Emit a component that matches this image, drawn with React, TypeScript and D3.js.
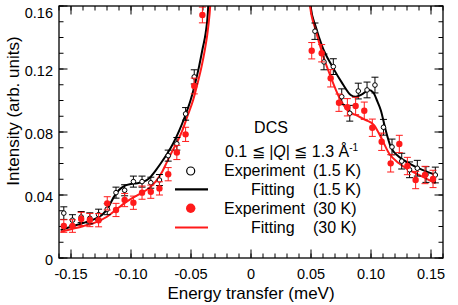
import React from 'react';
import * as d3 from 'd3';

const blackLeftE = [-0.156, -0.1488, -0.1415, -0.1343, -0.127, -0.1198, -0.1125, -0.1053, -0.098, -0.0908, -0.0835, -0.0763, -0.069, -0.0618, -0.0545, -0.0473];
const blackLeftI = [0.0285, 0.024, 0.026, 0.0252, 0.0275, 0.031, 0.0415, 0.043, 0.0485, 0.0485, 0.0478, 0.0495, 0.065, 0.0725, 0.0915, 0.115];
const blackLeftErr = [0.004, 0.0035, 0.0035, 0.0035, 0.0035, 0.0035, 0.0035, 0.0035, 0.0035, 0.0035, 0.0035, 0.0035, 0.0035, 0.004, 0.004, 0.0045];

const redLeftE = [-0.156, -0.1488, -0.1415, -0.1343, -0.127, -0.1198, -0.1125, -0.1053, -0.098, -0.0908, -0.0835, -0.0763, -0.069, -0.0618, -0.0545, -0.0473, -0.0405];
const redLeftI = [0.0203, 0.0203, 0.0248, 0.0241, 0.024, 0.0347, 0.0305, 0.0368, 0.0351, 0.0415, 0.0421, 0.0442, 0.0532, 0.067, 0.0785, 0.1092, 0.1543];
const redLeftErr = [0.004, 0.004, 0.0042, 0.0042, 0.0042, 0.0042, 0.0042, 0.0042, 0.0042, 0.0042, 0.0042, 0.0042, 0.0042, 0.0045, 0.0045, 0.005, 0.005];

const blackRightE = [0.0533, 0.0608, 0.0686, 0.0756, 0.0823, 0.0894, 0.0967, 0.1033, 0.1104, 0.1175, 0.1256, 0.1321, 0.1386, 0.1458, 0.1536];
const blackRightI = [0.144, 0.1245, 0.1215, 0.1024, 0.0919, 0.106, 0.1067, 0.1098, 0.083, 0.0705, 0.0615, 0.056, 0.057, 0.053, 0.0527];
const blackRightErr = [0.0052, 0.005, 0.005, 0.005, 0.005, 0.005, 0.005, 0.005, 0.005, 0.005, 0.005, 0.005, 0.005, 0.005, 0.005];

const redRightE = [0.0506, 0.0589, 0.0664, 0.0733, 0.0803, 0.0872, 0.0944, 0.1011, 0.1089, 0.1164, 0.1236, 0.1303, 0.1372, 0.145, 0.1517];
const redRightI = [0.1316, 0.13, 0.1141, 0.0986, 0.0957, 0.0965, 0.0935, 0.0827, 0.0738, 0.0601, 0.0724, 0.0584, 0.0495, 0.0527, 0.0502];
const redRightErr = [0.0052, 0.0055, 0.0055, 0.0055, 0.0055, 0.0055, 0.0055, 0.0055, 0.0055, 0.0055, 0.0055, 0.0055, 0.0055, 0.0055, 0.0055];

// fitted curves
const fitBlackLeftE = [-0.1586, -0.15, -0.14, -0.13, -0.124, -0.119, -0.1145, -0.11, -0.105, -0.1, -0.095, -0.09, -0.085, -0.08, -0.075, -0.07, -0.065, -0.06, -0.055, -0.0503, -0.0465, -0.0433, -0.0403, -0.0378, -0.036, -0.0352];
const fitBlackLeftI = [0.0178, 0.0198, 0.0222, 0.0248, 0.0275, 0.032, 0.0385, 0.0432, 0.046, 0.047, 0.0475, 0.0483, 0.0505, 0.055, 0.0603, 0.066, 0.0725, 0.0805, 0.09, 0.1003, 0.111, 0.1215, 0.133, 0.1427, 0.155, 0.166];
const fitRedLeftE = [-0.1586, -0.15, -0.14, -0.13, -0.12, -0.113, -0.106, -0.099, -0.092, -0.085, -0.079, -0.074, -0.07, -0.066, -0.062, -0.057, -0.053, -0.0482, -0.0445, -0.0412, -0.0385, -0.0365, -0.0345, -0.0334];
const fitRedLeftI = [0.0167, 0.0183, 0.0202, 0.0225, 0.0262, 0.0303, 0.0345, 0.038, 0.041, 0.0443, 0.049, 0.0548, 0.061, 0.0672, 0.073, 0.0813, 0.09, 0.1003, 0.111, 0.1215, 0.132, 0.1415, 0.155, 0.166];
const fitBlackRightE = [0.049, 0.0497, 0.0539, 0.0594, 0.0678, 0.0761, 0.0831, 0.0872, 0.0928, 0.0983, 0.102, 0.105, 0.1081, 0.1122, 0.1164, 0.1233, 0.1317, 0.1428, 0.1539];
const fitBlackRightI = [0.166, 0.1596, 0.1469, 0.1342, 0.1215, 0.1109, 0.1035, 0.1024, 0.1041, 0.1067, 0.105, 0.1, 0.094, 0.0813, 0.0707, 0.0643, 0.0601, 0.0559, 0.0527];
const fitRedRightE = [0.0485, 0.0493, 0.0539, 0.0594, 0.0664, 0.0733, 0.0803, 0.0872, 0.0956, 0.1025, 0.1094, 0.115, 0.1233, 0.1344, 0.1456, 0.1539];
const fitRedRightI = [0.166, 0.1596, 0.1448, 0.13, 0.1151, 0.1024, 0.094, 0.0908, 0.0876, 0.0844, 0.0749, 0.0665, 0.0601, 0.0548, 0.0506, 0.0474];

const xTicks = [-0.15, -0.1, -0.05, 0, 0.05, 0.1, 0.15];
const xTickLabels = ['-0.15', '-0.10', '-0.05', '0', '0.05', '0.10', '0.15'];
const yTicks = [0, 0.04, 0.08, 0.12, 0.16];
const yTickLabels = ['0', '0.04', '0.08', '0.12', '0.16'];

const W = 458;
const H = 305;
const left = 59, right = 443, top = 6, bottom = 258;
const RED = '#ff1a1a';
const FONT = 'Liberation Sans, Arial, Helvetica, sans-serif';

const x = d3.scaleLinear().domain([-0.16, 0.16]).range([left, right]);
const y = d3.scaleLinear().domain([0, 0.16]).range([bottom, top]);

const line = d3.line<[number, number]>()
  .x(d => x(d[0]))
  .y(d => y(d[1]))
  .curve(d3.curveMonotoneX);

const zip = (a: number[], b: number[]) => a.map((v, i) => [v, b[i]] as [number, number]);

function Points({ es, is, errs, color, filled }: { es: number[]; is: number[]; errs: number[]; color: string; filled: boolean }) {
  return (
    <g>
      {es.map((e, i) => {
        const cx = x(e);
        const y0 = y(is[i] - errs[i]);
        const y1 = y(is[i] + errs[i]);
        return (
          <g key={i} stroke={color} strokeWidth={1}>
            <line x1={cx} x2={cx} y1={y0} y2={y1} />
            <line x1={cx - 3.5} x2={cx + 3.5} y1={y0} y2={y0} />
            <line x1={cx - 3.5} x2={cx + 3.5} y1={y1} y2={y1} />
            {filled
              ? <circle cx={cx} cy={y(is[i])} r={3.2} fill={color} stroke="none" />
              : <circle cx={cx} cy={y(is[i])} r={2.3} fill="white" stroke={color} strokeWidth={1} />}
          </g>
        );
      })}
    </g>
  );
}

export default function App() {
  const minorX = d3.range(-16, 17).map(v => v / 100);
  const minorY = d3.range(0, 17).map(v => v / 100);

  return (
    <svg width={W} height={H} style={{ position: 'absolute', left: 0, top: 0, background: 'white' }} fontFamily={FONT}>
      <defs>
        <clipPath id="plot">
          <rect x={left} y={top} width={right - left} height={bottom - top} />
        </clipPath>
      </defs>

      {/* ticks on all four sides, pointing in */}
      <g stroke="black" strokeWidth={1}>
        {minorX.map((v, i) => (
          <g key={'mx' + i}>
            <line x1={x(v)} x2={x(v)} y1={bottom} y2={bottom - 4.5} />
            <line x1={x(v)} x2={x(v)} y1={top} y2={top + 4.5} />
          </g>
        ))}
        {xTicks.map((v, i) => (
          <g key={'x' + i}>
            <line x1={x(v)} x2={x(v)} y1={bottom} y2={bottom - 8.5} />
            <line x1={x(v)} x2={x(v)} y1={top} y2={top + 8.5} />
          </g>
        ))}
        {minorY.map((v, i) => (
          <g key={'my' + i}>
            <line x1={left} x2={left + 4.5} y1={y(v)} y2={y(v)} />
            <line x1={right} x2={right - 4.5} y1={y(v)} y2={y(v)} />
          </g>
        ))}
        {yTicks.map((v, i) => (
          <g key={'y' + i}>
            <line x1={left} x2={left + 8.5} y1={y(v)} y2={y(v)} />
            <line x1={right} x2={right - 8.5} y1={y(v)} y2={y(v)} />
          </g>
        ))}
      </g>

      <g clipPath="url(#plot)">
        <path d={line(zip(fitBlackLeftE, fitBlackLeftI)) ?? ''} fill="none" stroke="black" strokeWidth={2} />
        <path d={line(zip(fitRedLeftE, fitRedLeftI)) ?? ''} fill="none" stroke={RED} strokeWidth={2} />
        <path d={line(zip(fitBlackRightE, fitBlackRightI)) ?? ''} fill="none" stroke="black" strokeWidth={2} />
        <path d={line(zip(fitRedRightE, fitRedRightI)) ?? ''} fill="none" stroke={RED} strokeWidth={2} />
        <Points es={blackLeftE} is={blackLeftI} errs={blackLeftErr} color="black" filled={false} />
        <Points es={blackRightE} is={blackRightI} errs={blackRightErr} color="black" filled={false} />
        <Points es={redLeftE} is={redLeftI} errs={redLeftErr} color={RED} filled={true} />
        <Points es={redRightE} is={redRightI} errs={redRightErr} color={RED} filled={true} />
      </g>

      <rect x={left} y={top} width={right - left} height={bottom - top} fill="none" stroke="black" strokeWidth={1.3} />

      {xTicks.map((v, i) => (
        <text key={'xl' + i} x={x(v)} y={278.5} fontSize={14.5} textAnchor="middle">{xTickLabels[i]}</text>
      ))}
      {yTicks.map((v, i) => (
        // top label is nudged down so it stays inside the figure
        <text key={'yl' + i} x={53} y={Math.max(y(v) + 1.5, 13)} dy="0.35em" fontSize={14.5} textAnchor="end">{yTickLabels[i]}</text>
      ))}

      <text x={(left + right) / 2} y={299} fontSize={17} textAnchor="middle">Energy transfer (meV)</text>
      <text transform="translate(19,111) rotate(-90)" fontSize={17} textAnchor="middle">Intensity (arb. units)</text>

      {/* legend */}
      <g fontSize={16}>
        <text x={271} y={133} textAnchor="middle">DCS</text>
        <text x={225} y={157}>0.1 ≦ |<tspan fontStyle="italic">Q</tspan>| ≦ 1.3 Å<tspan dy={-6} fontSize={10}>-1</tspan></text>
        <circle cx={190.7} cy={171} r={4} fill="white" stroke="black" strokeWidth={1.2} />
        <text x={224} y={176}>Experiment</text>
        <text x={313} y={176}>(1.5 K)</text>
        <line x1={175} x2={208} y1={189.3} y2={189.3} stroke="black" strokeWidth={2.2} />
        <text x={251} y={195}>Fitting</text>
        <text x={313} y={195}>(1.5 K)</text>
        <circle cx={190.7} cy={208.3} r={4.7} fill={RED} />
        <text x={224} y={214}>Experiment</text>
        <text x={313} y={214}>(30 K)</text>
        <line x1={175} x2={208} y1={227.5} y2={227.5} stroke={RED} strokeWidth={2.2} />
        <text x={251} y={233}>Fitting</text>
        <text x={313} y={233}>(30 K)</text>
      </g>
    </svg>
  );
}
